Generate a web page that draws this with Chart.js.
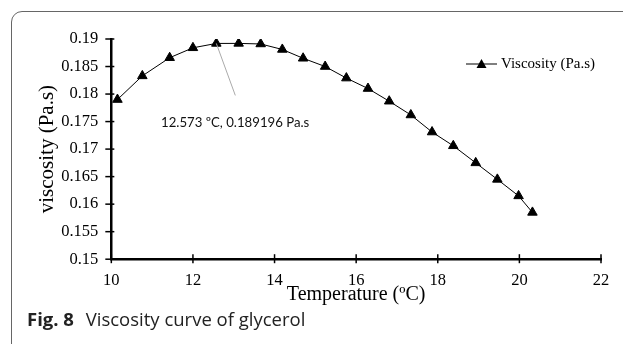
<!DOCTYPE html>
<html>
<head>
<meta charset="utf-8">
<script src="https://cdn.jsdelivr.net/npm/chart.js@4"></script>
<style>
  html, body { margin: 0; padding: 0; background: #fff; overflow: hidden; }
  body { width: 623px; height: 344px; position: relative; }
  #frame {
    position: absolute; left: 11px; top: 11px; width: 700px; height: 400px;
    border: 1.5px solid #666; border-radius: 11px;
  }
  #wrap { position: absolute; left: 0; top: 0; width: 623px; height: 307px; }
  #caption {
    position: absolute; left: 27px; top: 306px;
    font-family: "Open Sans", sans-serif; font-size: 18.5px; color: #222;
  }
  #caption b { font-weight: 700; margin-right: 7px; }
</style>
</head>
<body>
<div id="frame"></div>
<div id="wrap"><canvas id="viscosityChart"></canvas></div>
<div id="caption"><b>Fig. 8</b> Viscosity curve of glycerol</div>
<script>
// datos
const temperatures = [10.15, 10.76, 11.43, 12.0, 12.573, 13.12, 13.66, 14.19, 14.70, 15.24,
  15.76, 16.29, 16.81, 17.34, 17.86, 18.38, 18.93, 19.46, 19.98, 20.32];
const viscosities = [0.1790, 0.1833, 0.1866, 0.1884, 0.189196, 0.1892, 0.1891, 0.1881, 0.1865, 0.1850,
  0.1829, 0.1810, 0.1787, 0.1762, 0.1731, 0.1706, 0.1675, 0.1645, 0.1615, 0.1585];
const xTicks = [10, 12, 14, 16, 18, 20, 22];
const yTicks = [0.15, 0.155, 0.16, 0.165, 0.17, 0.175, 0.18, 0.185, 0.19];
const peak = { x: 12.573, y: 0.189196, text: '12.573 ºC, 0.189196 Pa.s' };

const serif = '"Liberation Serif", "Times New Roman", serif';

// ticks que cruzan el eje, leyenda y anotacion
const extras = {
  id: 'extras',
  afterDraw(chart) {
    const { ctx, scales: { x, y } } = chart;
    ctx.save();
    ctx.strokeStyle = '#000';
    ctx.lineWidth = 1.5;
    xTicks.forEach(v => {
      const px = x.getPixelForValue(v);
      ctx.beginPath(); ctx.moveTo(px, y.bottom - 5); ctx.lineTo(px, y.bottom + 4); ctx.stroke();
    });
    yTicks.forEach(v => {
      const py = y.getPixelForValue(v);
      ctx.beginPath(); ctx.moveTo(x.left - 6, py); ctx.lineTo(x.left + 3, py); ctx.stroke();
    });

    // linea de la anotacion
    const px = x.getPixelForValue(peak.x);
    const py = y.getPixelForValue(peak.y);
    ctx.strokeStyle = '#aaa';
    ctx.lineWidth = 1;
    ctx.beginPath(); ctx.moveTo(px, py); ctx.lineTo(px + 19, py + 52); ctx.stroke();
    ctx.fillStyle = '#111';
    ctx.font = '13.2px Lato, sans-serif';
    ctx.textBaseline = 'middle';
    ctx.textAlign = 'left';
    ctx.fillText(peak.text, 161, 123);

    // leyenda
    const ly = 64;
    ctx.strokeStyle = '#555';
    ctx.lineWidth = 1.5;
    ctx.beginPath(); ctx.moveTo(466, ly); ctx.lineTo(497, ly); ctx.stroke();
    ctx.fillStyle = '#000';
    ctx.beginPath();
    ctx.moveTo(481.5, ly - 5); ctx.lineTo(486.5, ly + 4); ctx.lineTo(476.5, ly + 4); ctx.closePath();
    ctx.fill();
    ctx.font = '15px ' + serif;
    ctx.fillText(chart.data.datasets[0].label, 501, ly);
    ctx.restore();
  }
};

new Chart(document.getElementById('viscosityChart'), {
  type: 'scatter',
  data: {
    datasets: [{
      label: 'Viscosity (Pa.s)',
      data: temperatures.map((t, i) => ({ x: t, y: viscosities[i] })),
      showLine: true,
      borderColor: '#000',
      borderWidth: 1,
      backgroundColor: '#000',
      pointStyle: 'triangle',
      pointRadius: 5.5,
      pointHoverRadius: 5.5,
      tension: 0
    }]
  },
  options: {
    responsive: true,
    maintainAspectRatio: false,
    animation: false,
    layout: { padding: { left: 35, right: 22, top: 39, bottom: 0 } },
    plugins: { legend: { display: false }, tooltip: { enabled: false } },
    scales: {
      x: {
        type: 'linear', min: 10, max: 22,
        afterBuildTicks: s => { s.ticks = xTicks.map(v => ({ value: v })); },
        grid: { display: false, drawTicks: false },
        border: { color: '#000', width: 2.5 },
        ticks: { color: '#000', font: { family: serif, size: 16.5 }, padding: 12, maxRotation: 0 },
        title: { display: true, text: 'Temperature (ºC)', color: '#000', font: { family: serif, size: 20 }, padding: { top: -20, bottom: 0 } }
      },
      y: {
        type: 'linear', min: 0.15, max: 0.19,
        afterBuildTicks: s => { s.ticks = yTicks.map(v => ({ value: v })); },
        grid: { display: false, drawTicks: false },
        border: { color: '#000', width: 2.5 },
        ticks: { color: '#000', font: { family: serif, size: 16.5 }, padding: 13, callback: v => String(+v.toFixed(3)) },
        title: { display: true, text: 'viscosity (Pa.s)', color: '#000', font: { family: serif, size: 21 }, padding: { top: 0, bottom: -12 } }
      }
    }
  },
  plugins: [extras]
});
</script>
</body>
</html>
